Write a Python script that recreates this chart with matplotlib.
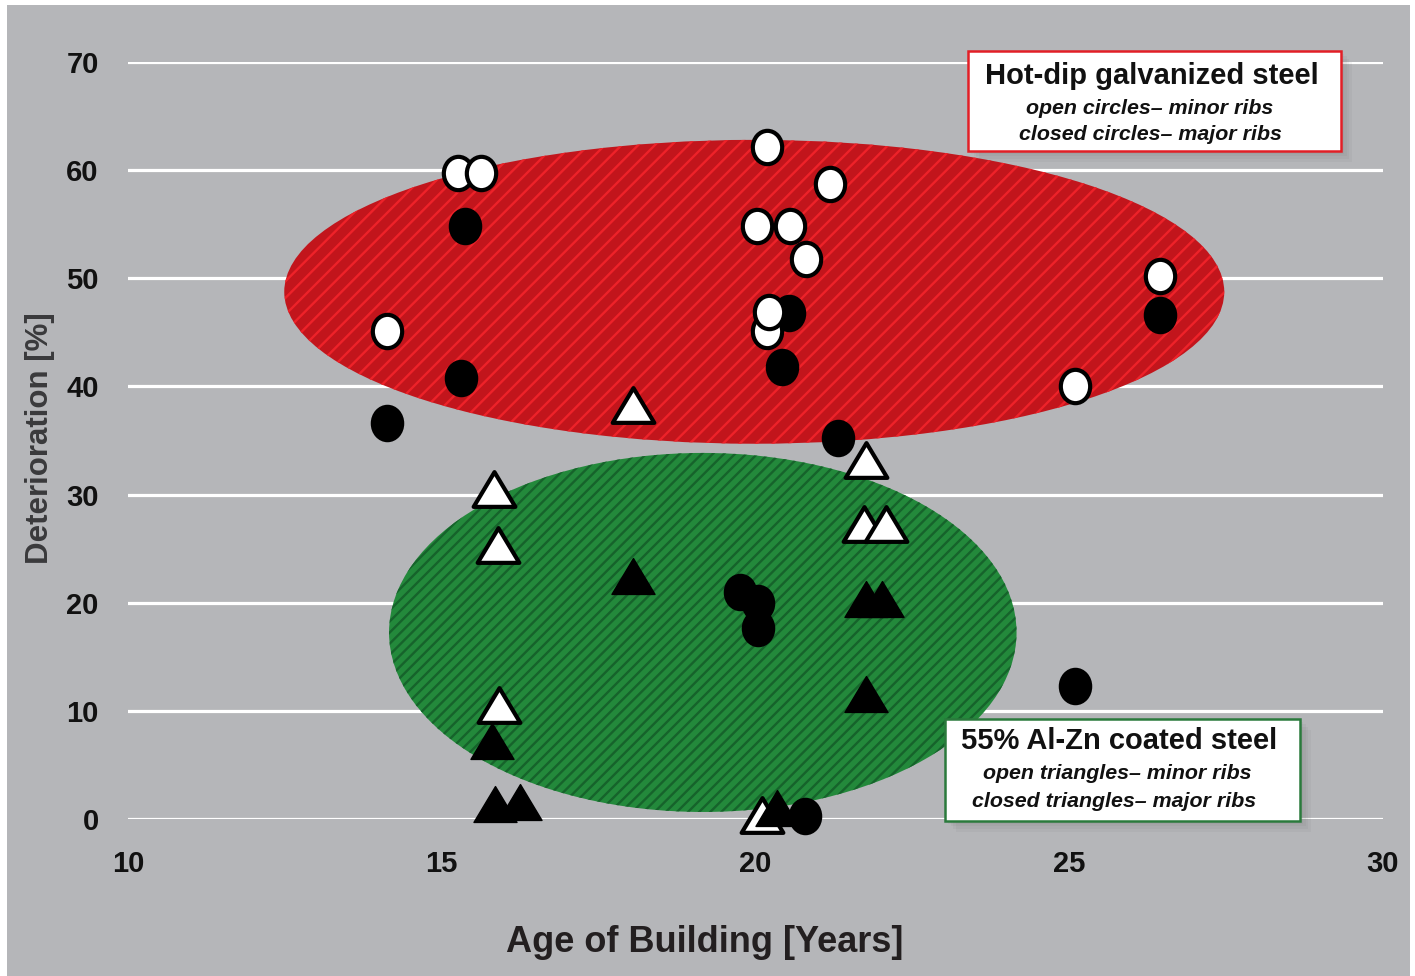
import numpy as np
import matplotlib
matplotlib.use('Agg')
import matplotlib.pyplot as plt
from matplotlib.patches import Ellipse, Rectangle
from matplotlib.path import Path
from matplotlib.transforms import Affine2D

plt.rcParams['font.family'] = ['Liberation Sans', 'DejaVu Sans']
plt.rcParams['hatch.linewidth'] = 1.7

# hot-dip galvanized steel
hdg_minor_x = [15.26, 15.63, 14.13, 20.18, 20.02, 20.55, 20.80, 21.19, 20.18, 20.21, 26.45, 25.09]
hdg_minor_y = [59.7, 59.7, 45.1, 62.1, 54.8, 54.8, 51.8, 58.7, 45.1, 46.9, 50.2, 40.0]
hdg_major_x = [15.37, 15.31, 14.13, 20.53, 20.42, 21.31, 26.45, 19.75, 20.04, 20.04, 25.09, 20.79]
hdg_major_y = [54.8, 40.8, 36.6, 46.8, 41.8, 35.2, 46.6, 21.0, 20.0, 17.7, 12.3, 0.3]

# 55% Al-Zn coated steel
alzn_minor_x = [18.05, 15.83, 15.90, 15.92, 21.76, 21.73, 22.08, 20.10]
alzn_minor_y = [38.3, 30.5, 25.3, 10.5, 33.2, 27.3, 27.3, 0.4]
alzn_major_x = [18.05, 21.76, 22.01, 21.76, 15.80, 15.85, 16.25, 20.34]
alzn_major_y = [22.5, 20.3, 20.3, 11.6, 7.2, 1.4, 1.6, 1.0]

# cluster regions (center x, center y, width, height)
hdg_region = (19.98, 48.75, 14.98, 28.1)
alzn_region = (19.16, 17.25, 10.0, 33.2)

xticks = [10, 15, 20, 25, 30]
yticks = [0, 10, 20, 30, 40, 50, 60, 70]

bg = '#b5b6b9'

fig = plt.figure(figsize=(14.15, 9.76), dpi=100)
fig.patch.set_facecolor('white')
fig.add_artist(Rectangle((0.005, 0), 0.9915, 0.9949, transform=fig.transFigure,
                         facecolor=bg, edgecolor='none', zorder=-10))

ax = fig.add_axes([128/1415, 1 - 819/976, (1383-128)/1415, (819-62)/976])
ax.set_facecolor('none')
ax.set_xlim(10, 30)
ax.set_ylim(0, 70)
ax.set_xticks(xticks)
ax.set_yticks(yticks)
ax.tick_params(length=0, labelsize=21, colors='#111111')
ax.tick_params(axis='y', pad=21)
ax.tick_params(axis='x', pad=22)
for lab in ax.get_xticklabels() + ax.get_yticklabels():
    lab.set_fontweight('bold')
ax.grid(axis='y', color='white', linewidth=2.3)
ax.set_axisbelow(True)
for d in ['left', 'top', 'bottom', 'right']:
    ax.spines[d].set_visible(False)

def region(params, face, stripe, hatch):
    cx, cy, w, h = params
    ax.add_patch(Ellipse((cx, cy), w, h, facecolor=face, edgecolor='none',
                         zorder=1, clip_on=False))
    ax.add_patch(Ellipse((cx, cy), w, h, facecolor='none', edgecolor=stripe,
                         linewidth=0, hatch=hatch, zorder=1.1, clip_on=False))

region(hdg_region, '#c2151c', '#ee2229', '//')
region(alzn_region, '#23893b', '#16632b', '///')

circ = Path.unit_circle().transformed(Affine2D().scale(0.88, 1.0))
tri = Path([(0, 1), (-1.2, -1), (1.2, -1), (0, 1)],
           [Path.MOVETO, Path.LINETO, Path.LINETO, Path.CLOSEPOLY])

ax.plot(alzn_minor_x, alzn_minor_y, linestyle='none', marker=tri, ms=30,
        mfc='white', mec='black', mew=3, zorder=3, clip_on=False)
ax.plot(alzn_major_x, alzn_major_y, linestyle='none', marker=tri, ms=31,
        mfc='black', mec='black', mew=1, zorder=4, clip_on=False)
ax.plot(hdg_major_x, hdg_major_y, linestyle='none', marker=circ, ms=24,
        mfc='black', mec='black', mew=3, zorder=5, clip_on=False)
ax.plot(hdg_minor_x, hdg_minor_y, linestyle='none', marker=circ, ms=24,
        mfc='white', mec='black', mew=3, zorder=6, clip_on=False)

def legend_box(x0, y0, w, h, edge):
    for i in range(4):
        off = 0.002 * (i + 1)
        fig.add_artist(Rectangle((x0 + off, y0 - off * 1.4), w, h,
                                 transform=fig.transFigure, facecolor='#555555',
                                 edgecolor='none', alpha=0.06, zorder=8))
    fig.add_artist(Rectangle((x0, y0), w, h, transform=fig.transFigure,
                             facecolor='white', edgecolor=edge, linewidth=1.8,
                             zorder=9))

legend_box(0.6841, 0.8453, 0.2636, 0.1025, '#e21f26')
fig.text(0.8141, 0.9221, 'Hot-dip galvanized steel', ha='center', va='center',
         fontsize=21, fontweight='bold', color='#111111', zorder=10)
fig.text(0.8127, 0.8893, 'open circles\u2013 minor ribs', ha='center', va='center',
         fontsize=15.4, fontweight='bold', fontstyle='italic', color='#111111', zorder=10)
fig.text(0.8127, 0.8617, 'closed circles\u2013 major ribs', ha='center', va='center',
         fontsize=15.4, fontweight='bold', fontstyle='italic', color='#111111', zorder=10)

legend_box(0.6678, 0.1588, 0.2509, 0.1045, '#2a7a3c')
fig.text(0.7908, 0.2408, '55% Al-Zn coated steel', ha='center', va='center',
         fontsize=21, fontweight='bold', color='#111111', zorder=10)
fig.text(0.7894, 0.2070, 'open triangles\u2013 minor ribs', ha='center', va='center',
         fontsize=15.4, fontweight='bold', fontstyle='italic', color='#111111', zorder=10)
fig.text(0.7870, 0.1793, 'closed triangles\u2013 major ribs', ha='center', va='center',
         fontsize=15.4, fontweight='bold', fontstyle='italic', color='#111111', zorder=10)

fig.text(0.0283, 0.5512, 'Deterioration [%]', rotation=90, ha='center', va='center',
         fontsize=22.5, fontweight='bold', color='#3a3a3c')
fig.text(0.498, 0.0348, 'Age of Building [Years]', ha='center', va='center',
         fontsize=26, fontweight='bold', color='#231f20')

plt.savefig('out.png', dpi=100, facecolor=fig.get_facecolor())
